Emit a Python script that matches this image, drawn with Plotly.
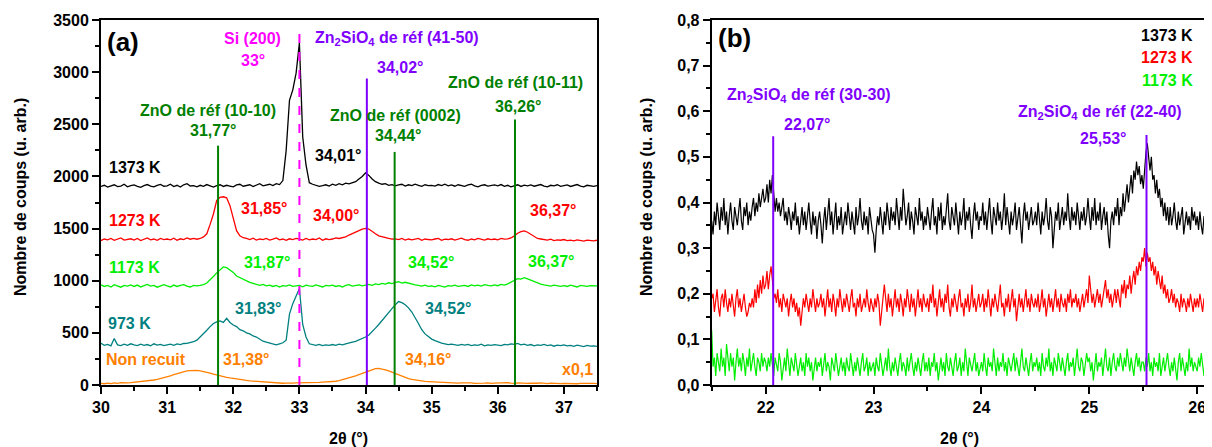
import numpy as np
import plotly.graph_objects as go

# ---------------- data : panel (a) ----------------
theta_a = np.round(np.linspace(30.0, 37.5, 151), 3)

counts_1373 = [
    1905, 1915, 1898, 1910, 1920, 1902, 1908, 1925, 1900, 1912,
    1918, 1905, 1896, 1912, 1922, 1908, 1900, 1915, 1924, 1906,
    1910, 1925, 1903, 1915, 1898, 1920, 1930, 1908, 1912, 1900,
    1915, 1905, 1922, 1910, 1898, 1912, 1920, 1904, 1915, 1908,
    1900, 1918, 1925, 1906, 1912, 1920, 1903, 1916, 1930, 1910,
    1918, 1925, 1912, 1930, 1922, 1960, 2250, 2730, 2830, 2990,
    3280, 2380, 2110, 1940, 1925, 1915, 1905, 1912, 1920, 1908,
    1925, 1915, 1930, 1920, 1935, 1928, 1940, 1950, 1975, 2000,
    2035, 2010, 1975, 1950, 1935, 1925, 1930, 1915, 1922, 1910,
    1918, 1925, 1908, 1920, 1912, 1925, 1915, 1905, 1920, 1912,
    1915, 1908, 1922, 1912, 1925, 1910, 1918, 1906, 1920, 1915,
    1905, 1918, 1925, 1910, 1900, 1915, 1920, 1908, 1912, 1918,
    1910, 1922, 1905, 1915, 1900, 1912, 1920, 1904, 1916, 1910,
    1918, 1906, 1912, 1922, 1908, 1900, 1915, 1910, 1920, 1905,
    1912, 1918, 1904, 1915, 1922, 1908, 1900, 1915, 1910, 1905,
    1912,
]

counts_1273 = [
    1385, 1400, 1392, 1405, 1388, 1398, 1410, 1390, 1395, 1402,
    1390, 1405, 1385, 1398, 1410, 1392, 1400, 1388, 1405, 1395,
    1400, 1392, 1408, 1388, 1402, 1395, 1410, 1398, 1405, 1398,
    1405, 1420, 1450, 1540, 1640, 1770, 1800, 1805, 1795, 1720,
    1590, 1480, 1430, 1412, 1405, 1395, 1408, 1390, 1400, 1395,
    1405, 1390, 1398, 1410, 1392, 1400, 1388, 1402, 1395, 1405,
    1398, 1390, 1405, 1392, 1400, 1395, 1410, 1388, 1402, 1395,
    1400, 1410, 1405, 1415, 1420, 1438, 1450, 1465, 1480, 1495,
    1502, 1495, 1470, 1450, 1430, 1420, 1410, 1405, 1398, 1402,
    1395, 1405, 1390, 1400, 1392, 1398, 1405, 1388, 1400, 1395,
    1392, 1400, 1405, 1388, 1398, 1395, 1402, 1390, 1400, 1408,
    1395, 1388, 1400, 1392, 1405, 1398, 1390, 1402, 1395, 1400,
    1392, 1405, 1398, 1402, 1410, 1430, 1455, 1470, 1478, 1465,
    1445, 1420, 1405, 1400, 1395, 1390, 1398, 1385, 1392, 1388,
    1395, 1385, 1390, 1382, 1392, 1388, 1380, 1390, 1385, 1382,
    1388,
]

counts_1173 = [
    960, 945, 955, 940, 962, 950, 938, 955, 948, 960,
    945, 958, 940, 952, 965, 948, 955, 938, 950, 962,
    950, 940, 958, 945, 955, 962, 948, 940, 955, 950,
    955, 962, 978, 1005, 1040, 1075, 1105, 1132, 1125, 1100,
    1080, 1045, 1030, 1010, 995, 985, 975, 962, 955, 965,
    950, 958, 945, 955, 940, 952, 948, 960, 945, 950,
    955, 942, 958, 950, 945, 960, 948, 940, 955, 950,
    958, 945, 952, 940, 955, 962, 948, 955, 960, 950,
    958, 965, 955, 970, 962, 975, 968, 980, 972, 985,
    990, 978, 985, 975, 968, 960, 955, 948, 958, 945,
    950, 942, 955, 945, 938, 952, 948, 958, 945, 950,
    955, 945, 960, 950, 958, 948, 962, 955, 950, 960,
    952, 965, 958, 970, 985, 1005, 1020, 1015, 1030, 1018,
    1005, 990, 975, 968, 960, 955, 948, 958, 950, 945,
    952, 945, 958, 948, 940, 955, 950, 945, 952, 948,
    950,
]

counts_973 = [
    400, 380, 390, 375, 445, 385, 378, 392, 380, 395,
    385, 378, 392, 380, 388, 375, 395, 382, 390, 378,
    385, 392, 380, 395, 388, 398, 400, 405, 415, 430,
    460, 490, 525, 560, 590, 605, 615, 600, 640, 600,
    575, 560, 530, 520, 500, 490, 470, 460, 440, 420,
    410, 400, 392, 385, 395, 405, 430, 680, 780, 850,
    925, 580, 460, 395, 385, 380, 390, 378, 385, 380,
    388, 380, 392, 385, 395, 400, 410, 418, 430, 445,
    460, 480, 510, 545, 580, 620, 660, 700, 735, 770,
    800, 790, 770, 740, 700, 650, 590, 530, 490, 465,
    440, 425, 410, 402, 395, 388, 392, 385, 380, 390,
    382, 390, 378, 385, 380, 392, 375, 385, 380, 388,
    382, 378, 390, 385, 395, 390, 398, 385, 392, 380,
    388, 375, 385, 380, 390, 378, 385, 372, 382, 378,
    385, 375, 380, 370, 382, 375, 368, 380, 372, 375,
    370,
]

counts_non_recuit = [
    15, 12, 18, 14, 20, 16, 22, 18, 20, 22,
    25, 27, 30, 34, 38, 45, 48, 55, 62, 70,
    78, 88, 100, 110, 120, 128, 135, 138, 140, 141,
    136, 130, 122, 113, 104, 95, 87, 80, 74, 68,
    62, 57, 52, 48, 44, 40, 37, 34, 31, 28,
    26, 24, 22, 20, 18, 17, 18, 16, 18, 20,
    20, 18, 22, 20, 24, 22, 25, 27, 28, 30,
    32, 36, 42, 50, 58, 68, 78, 88, 100, 112,
    125, 138, 150, 158, 160, 155, 145, 135, 122, 112,
    100, 88, 75, 62, 54, 48, 42, 38, 34, 32,
    30, 28, 26, 25, 22, 24, 20, 22, 18, 20,
    22, 18, 20, 16, 19, 22, 18, 20, 15, 18,
    20, 16, 18, 22, 18, 15, 20, 17, 19, 16,
    18, 15, 17, 20, 16, 14, 18, 15, 17, 14,
    16, 14, 18, 15, 12, 16, 14, 17, 13, 15,
    14,
]

ref_a_pos = [31.77, 33.00, 34.02, 34.44, 36.26]
ref_a_top = [2295, 3375, 2940, 2235, 2545]

# ---------------- data : panel (b) ----------------
theta_b = np.round(np.linspace(21.5, 26.1, 369), 4)

int_b_1373 = [
    .36, .33, .38, .35, .40, .37, .34, .39, .36, .41, .35, .38, .33, .37, .40, .36, .34, .39, .37, .35,
    .38, .41, .36, .34, .39, .37, .40, .35, .38, .36, .39, .41, .37, .40, .38, .42, .39, .41, .43, .40,
    .41, .44, .40, .45, .42, .46, .41, .38, .41, .38, .40, .37, .39, .41, .36, .38, .35, .39, .37, .34,
    .38, .36, .40, .35, .37, .33, .36, .39, .35, .38, .34, .37, .40, .36, .33, .38, .35, .37, .32, .36,
    .38, .35, .31, .36, .39, .34, .37, .41, .35, .38, .33, .36, .40, .34, .37, .35, .39, .33, .36, .38,
    .35, .40, .37, .34, .38, .36, .33, .39, .35, .37, .41, .36, .34, .38, .35, .37, .33, .39, .36, .34,
    .33, .29, .34, .37, .35, .39, .36, .33, .38, .35, .40, .37, .34, .39, .36, .38, .35, .41, .37, .34,
    .39, .36, .43, .38, .35, .37, .40, .34, .38, .36, .33, .39, .37, .35, .41, .36, .38, .34, .37, .35,
    .39, .36, .34, .38, .41, .35, .37, .33, .39, .36, .40, .34, .37, .35, .38, .42, .36, .34, .39, .37,
    .35, .40, .36, .33, .38, .35, .37, .41, .34, .38, .36, .39, .35, .32, .37, .40, .36, .38, .34, .37,
    .36, .40, .35, .38, .34, .37, .41, .36, .33, .39, .37, .35, .40, .36, .38, .34, .37, .42, .35, .39,
    .36, .33, .38, .35, .37, .40, .34, .36, .39, .35, .31, .37, .40, .36, .38, .34, .37, .39, .35, .36,
    .38, .35, .40, .36, .33, .38, .35, .37, .41, .36, .34, .39, .37, .30, .35, .38, .36, .40, .34, .37,
    .39, .35, .38, .36, .42, .37, .34, .39, .36, .38, .35, .40, .37, .34, .38, .36, .39, .35, .37, .41,
    .37, .34, .39, .36, .41, .35, .38, .36, .40, .34, .37, .39, .35, .38, .33, .30, .36, .38, .35, .39,
    .37, .41, .35, .39, .37, .42, .38, .41, .44, .40, .43, .46, .42, .47, .45, .49, .46, .48, .44, .46,
    .43, .48, .51, .53, .49, .47, .50, .45, .46, .42, .45, .41, .43, .39, .41, .37, .40, .36, .39, .35,
    .39, .35, .37, .40, .36, .34, .38, .35, .37, .39, .33, .36, .38, .35, .37, .34, .39, .36, .38, .35,
    .37, .34, .38, .35, .33, .37, .36, .39, .34,
]

int_b_1273 = [
    .19, .20, .16, .18, .21, .17, .15, .19, .20, .17, .21, .18, .16, .19, .17, .20, .18, .15, .19, .21,
    .17, .19, .16, .18, .20, .17, .15, .16, .18, .17, .19, .17, .21, .18, .22, .19, .23, .20, .24, .21,
    .22, .25, .21, .24, .26, .23, .19, .20, .18, .21, .17, .19, .16, .20, .18, .17, .19, .15, .18, .20,
    .17, .19, .16, .18, .15, .17, .13, .16, .19, .17, .20, .18, .16, .19, .17, .21, .18, .16, .19, .17,
    .18, .20, .17, .19, .15, .18, .21, .17, .19, .16, .20, .18, .15, .19, .17, .21, .18, .16, .19, .17,
    .20, .18, .16, .19, .21, .17, .18, .15, .19, .17, .20, .16, .18, .19, .17, .21, .18, .16, .19, .17,
    .16, .19, .17, .20, .18, .13, .17, .19, .22, .18, .16, .20, .17, .19, .15, .18, .21, .17, .19, .16,
    .20, .18, .15, .19, .17, .21, .18, .16, .20, .17, .19, .15, .18, .21, .17, .19, .16, .20, .18, .17,
    .19, .16, .20, .18, .22, .17, .19, .15, .18, .21, .17, .19, .16, .20, .18, .22, .17, .15, .19, .17,
    .20, .18, .16, .19, .21, .17, .18, .15, .19, .17, .20, .16, .18, .22, .17, .19, .16, .18, .20, .17,
    .18, .20, .16, .19, .17, .21, .18, .15, .19, .17, .20, .18, .16, .19, .22, .17, .18, .15, .19, .17,
    .20, .16, .18, .21, .17, .19, .14, .18, .20, .17, .19, .16, .18, .21, .17, .19, .16, .20, .18, .17,
    .19, .17, .20, .16, .18, .21, .17, .19, .15, .18, .20, .17, .19, .16, .18, .21, .17, .19, .16, .20,
    .18, .17, .19, .16, .20, .18, .21, .17, .19, .18, .20, .17, .19, .16, .18, .20, .17, .19, .21, .18,
    .24, .21, .18, .20, .17, .19, .21, .18, .20, .17, .19, .22, .23, .19, .21, .18, .20, .17, .19, .21,
    .18, .21, .19, .17, .22, .20, .23, .19, .22, .21, .24, .20, .23, .25, .22, .26, .24, .27, .25, .28,
    .27, .30, .26, .29, .27, .28, .25, .27, .24, .26, .22, .25, .23, .21, .24, .20, .22, .19, .21, .18,
    .19, .21, .18, .20, .17, .19, .18, .16, .20, .17, .19, .18, .16, .19, .17, .20, .18, .16, .19, .17,
    .19, .17, .20, .18, .16, .19, .17, .20, .18,
]

int_b_1173 = [
    .12, .04, .06, .02, .07, .05, .03, .08, .04, .06, .02, .09, .05, .03, .07, .04, .06, .01, .05, .08,
    .04, .06, .03, .07, .05, .02, .06, .04, .08, .03, .05, .07, .04, .02, .06, .05, .03, .07, .04, .06,
    .05, .03, .06, .04, .07, .05, .02, .06, .04, .03, .07, .05, .01, .04, .06, .03, .08, .05, .02, .06,
    .04, .03, .07, .05, .02, .04, .06, .03, .05, .02, .07, .04, .06, .03, .05, .01, .04, .06, .03, .05,
    .04, .06, .02, .05, .07, .03, .05, .04, .01, .06, .04, .03, .07, .05, .02, .04, .06, .03, .05, .02,
    .06, .04, .03, .07, .04, .02, .05, .03, .06, .04, .02, .05, .07, .03, .04, .06, .02, .05, .03, .04,
    .05, .02, .06, .04, .03, .07, .05, .02, .04, .06, .03, .08, .04, .02, .05, .03, .06, .04, .02, .05,
    .07, .03, .05, .04, .02, .06, .03, .05, .07, .04, .02, .05, .03, .06, .04, .02, .05, .07, .03, .05,
    .03, .06, .02, .05, .04, .07, .03, .05, .01, .04, .06, .03, .05, .02, .07, .04, .03, .06, .04, .02,
    .05, .07, .03, .04, .06, .02, .05, .03, .08, .04, .02, .06, .04, .03, .05, .07, .03, .05, .02, .04,
    .05, .03, .07, .04, .02, .06, .04, .05, .03, .08, .04, .02, .06, .03, .05, .04, .07, .03, .05, .02,
    .06, .04, .03, .05, .07, .03, .06, .04, .02, .05, .08, .04, .03, .06, .04, .02, .05, .07, .03, .05,
    .04, .06, .03, .05, .02, .07, .04, .03, .06, .04, .08, .03, .05, .02, .06, .04, .03, .07, .05, .03,
    .06, .04, .02, .05, .07, .03, .05, .04, .06, .02, .05, .08, .04, .03, .06, .05, .02, .04, .07, .05,
    .06, .03, .05, .01, .04, .07, .03, .05, .04, .06, .02, .05, .08, .04, .03, .06, .02, .05, .07, .04,
    .03, .06, .04, .07, .05, .03, .06, .04, .08, .05, .03, .06, .04, .02, .05, .07, .04, .06, .03, .05,
    .05, .03, .06, .04, .07, .03, .05, .02, .06, .04, .05, .03, .07, .02, .04, .06, .03, .05, .07, .04,
    .02, .05, .03, .06, .04, .01, .05, .07, .03, .06, .04, .02, .05, .03, .08, .04, .06, .03, .05, .04,
    .03, .06, .04, .07, .05, .02, .06, .04, .05,
]

ref_b_pos = [22.07, 25.53]
ref_b_top = [0.545, 0.548]

for arr in (counts_1373, counts_1273, counts_1173, counts_973, counts_non_recuit):
    assert len(arr) == len(theta_a), len(arr)
for arr in (int_b_1373, int_b_1273, int_b_1173):
    assert len(arr) == len(theta_b), len(arr)

# ---------------- style ----------------
FONT = "Liberation Sans, Arial, sans-serif"
BLACK = "#000000"
RED = "#ff0000"
LIME = "#00ee00"
TEAL = "#008080"
ORANGE = "#ff8000"
DKGREEN = "#008000"
PURPLE = "#8000ff"
MAGENTA = "#ff00ff"

fig = go.Figure()

series_a = [
    (counts_non_recuit, ORANGE),
    (counts_973, TEAL),
    (counts_1173, LIME),
    (counts_1273, RED),
    (counts_1373, BLACK),
]
for ys, col in series_a:
    fig.add_trace(go.Scatter(x=theta_a, y=ys, mode="lines", xaxis="x", yaxis="y",
                             line=dict(color=col, width=1.3), showlegend=False, hoverinfo="skip"))

ref_a_col = [DKGREEN, MAGENTA, PURPLE, DKGREEN, DKGREEN]
ref_a_dash = ["solid", "dash", "solid", "solid", "solid"]
for pos, top, col, dash in zip(ref_a_pos, ref_a_top, ref_a_col, ref_a_dash):
    fig.add_trace(go.Scatter(x=[pos, pos], y=[0, top], mode="lines", xaxis="x", yaxis="y",
                             line=dict(color=col, width=2, dash=dash), showlegend=False, hoverinfo="skip"))

series_b = [(int_b_1173, LIME), (int_b_1273, RED), (int_b_1373, BLACK)]
for ys, col in series_b:
    fig.add_trace(go.Scatter(x=theta_b, y=ys, mode="lines", xaxis="x2", yaxis="y2",
                             line=dict(color=col, width=1.2), showlegend=False, hoverinfo="skip"))
for pos, top in zip(ref_b_pos, ref_b_top):
    fig.add_trace(go.Scatter(x=[pos, pos], y=[0, top], mode="lines", xaxis="x2", yaxis="y2",
                             line=dict(color=PURPLE, width=2), showlegend=False, hoverinfo="skip"))

tickfont = dict(family=FONT, size=16, color="black", weight="bold")


def axis(rng, dtick, minor_dtick, domain, anchor, **kw):
    d = dict(range=rng, dtick=dtick, domain=domain, anchor=anchor, automargin=False,
             showline=True, linecolor="black", linewidth=2, mirror=True,
             ticks="outside", ticklen=7, tickwidth=2, tickcolor="black",
             tickfont=tickfont, showgrid=False, zeroline=False,
             minor=dict(dtick=minor_dtick, ticks="outside", ticklen=4, tickwidth=2,
                        tickcolor="black", showgrid=False))
    d.update(kw)
    return d


# the page body has an 8 px margin: build the figure 8 px smaller and shifted
OFF = 8
W, H = 1212 - OFF, 447 - OFF
PLOT_TOP, PLOT_BOT = 20 - OFF, 385 - OFF
xdom_a = [(101 - OFF) / W, (597 - OFF) / W]
xdom_b = [(711.7 - OFF) / W, (1208 - OFF) / W]

fig.update_layout(
    width=W, height=H,
    margin=dict(l=0, r=0, t=PLOT_TOP, b=H - PLOT_BOT, autoexpand=False),
    paper_bgcolor="white", plot_bgcolor="white",
    separators=",.",
    xaxis=axis([30, 37.5], 1, 0.5, xdom_a, "y", tick0=30),
    yaxis=axis([0, 3500], 500, 250, [0, 1], "x", tick0=0),
    xaxis2=axis([21.5, 26.1], 1, 0.5, xdom_b, "y2", tick0=22),
    yaxis2=axis([0, 0.8], 0.1, 0.05, [0, 1], "x2", tick0=0, tickformat=".1f"),
)

anns = []


def ann(text, x, y, color, size=16, xref="x", yref="y", xanchor="center", angle=0):
    anns.append(dict(text=text, x=x, y=y, xref=xref, yref=yref, showarrow=False,
                     xanchor=xanchor, yanchor="middle", textangle=angle,
                     font=dict(family=FONT, size=size, color=color, weight="bold")))


def px_x(p):
    return (p - OFF) / W


def px_y(p):
    return (385 - p) / 365


ZN2 = "Zn<sub>2</sub>SiO<sub>4</sub> de réf "
# panel (a)
ann("(a)", 30.33, 3290, BLACK, size=26)
ann("Si (200)", 32.29, 3327, MAGENTA)
ann("33°", 32.30, 3116, MAGENTA)
ann(ZN2 + "(41-50)", 34.48, 3327, PURPLE)
ann("34,02°", 34.52, 3049, PURPLE)
ann("ZnO de réf (10-10)", 31.62, 2637, DKGREEN)
ann("31,77°", 31.69, 2436, DKGREEN)
ann("ZnO de réf (0002)", 34.46, 2589, DKGREEN)
ann("34,44°", 34.49, 2397, DKGREEN)
ann("ZnO de réf (10-11)", 36.27, 2896, DKGREEN)
ann("36,26°", 36.31, 2666, DKGREEN)
ann("1373 K", 30.52, 2090, BLACK)
ann("34,01°", 33.58, 2205, BLACK)
ann("1273 K", 30.51, 1582, RED)
ann("31,85°", 32.46, 1697, RED)
ann("34,00°", 33.55, 1630, RED)
ann("36,37°", 36.83, 1678, RED)
ann("1173 K", 30.51, 1122, LIME)
ann("31,87°", 32.51, 1179, LIME)
ann("34,52°", 34.99, 1170, LIME)
ann("36,37°", 36.80, 1189, LIME)
ann("973 K", 30.43, 585, TEAL)
ann("31,83°", 32.38, 738, TEAL)
ann("34,52°", 35.25, 738, TEAL)
ann("Non recuit", 30.68, 240, ORANGE)
ann("31,38°", 32.19, 240, ORANGE)
ann("34,16°", 34.94, 249, ORANGE)
ann("x0,1", 37.20, 144, ORANGE)
# panel (b)
ann("(b)", 21.715, 0.7606, BLACK, size=26, xref="x2", yref="y2")
ann(ZN2 + "(30-30)", 22.398, 0.6356, PURPLE, xref="x2", yref="y2")
ann("22,07°", 22.38, 0.5699, PURPLE, xref="x2", yref="y2")
ann(ZN2 + "(22-40)", 25.095, 0.598, PURPLE, xref="x2", yref="y2")
ann("25,53°", 25.13, 0.541, PURPLE, xref="x2", yref="y2")
ann("1373 K", 25.98, 0.767, BLACK, xref="x2", yref="y2", xanchor="right")
ann("1273 K", 25.98, 0.717, RED, xref="x2", yref="y2", xanchor="right")
ann("1173 K", 25.98, 0.668, LIME, xref="x2", yref="y2", xanchor="right")
# axis titles
ytitle = "Nombre de coups (u. arb.)"
ann(ytitle, px_x(20), px_y(197), BLACK, xref="paper", yref="paper", angle=-90)
ann(ytitle, px_x(646), px_y(197), BLACK, xref="paper", yref="paper", angle=-90)
ann("2θ (°)", px_x(348), px_y(438), BLACK, xref="paper", yref="paper")
ann("2θ (°)", px_x(959), px_y(438), BLACK, xref="paper", yref="paper")

fig.update_layout(annotations=anns)
fig.write_html("out.html")
